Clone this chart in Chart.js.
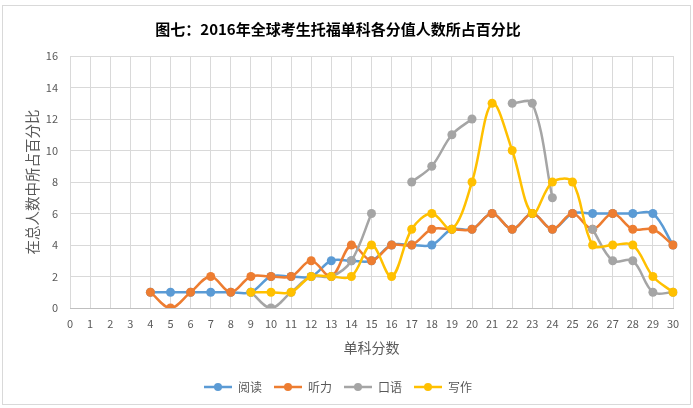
<!DOCTYPE html>
<html>
<head>
<meta charset="utf-8">
<script src="https://cdn.jsdelivr.net/npm/chart.js@4"></script>
<style>
  html, body { margin: 0; padding: 0; background: #fff; }
  #wrap { position: relative; width: 693px; height: 408px; }
  #frame { position: absolute; left: 2px; top: 5px; width: 689px; height: 400px; border: 1px solid #d9d9d9; box-sizing: border-box; }
  canvas { position: absolute; left: 0; top: 0; }
</style>
</head>
<body>
<div id="wrap">
  <div id="frame"></div>
  <canvas id="myChart" width="693" height="408"></canvas>
</div>
<script>
// x 轴：单科分数 0-30
const scoreLabels = ['0','1','2','3','4','5','6','7','8','9','10','11','12','13','14','15',
  '16','17','18','19','20','21','22','23','24','25','26','27','28','29','30'];

const readingPct = [null, null, null, null, 1, 1, 1, 1, 1, 1, 2, 2, 2, 3, 3, 3,
  4, 4, 4, 5, 5, 6, 5, 6, 5, 6, 6, 6, 6, 6, 4];
const listeningPct = [null, null, null, null, 1, 0, 1, 2, 1, 2, 2, 2, 3, 2, 4, 3,
  4, 4, 5, 5, 5, 6, 5, 6, 5, 6, 5, 6, 5, 5, 4];
const speakingPct = [null, null, null, null, null, null, null, null, null, 1, 0, 1, 2, 2, 3, 6,
  null, 8, 9, 11, 12, null, 13, 13, 7, null, 5, 3, 3, 1, 1];
const writingPct = [null, null, null, null, null, null, null, null, null, 1, 1, 1, 2, 2, 2, 4,
  2, 5, 6, 5, 8, 13, 10, 6, 8, 8, 4, 4, 4, 2, 1];

const seriesNames = ['阅读', '听力', '口语', '写作'];
const seriesColors = ['#5B9BD5', '#ED7D31', '#A5A5A5', '#FFC000'];

const FONT = "'Noto Sans CJK SC', 'Noto Sans', sans-serif";
const GREY_TEXT = '#595959';

// legend marker: short line with a dot, like Excel
function legendMarker(color) {
    var c = document.createElement('canvas');
    c.width = 28;
    c.height = 10;
    var g = c.getContext('2d');
    g.strokeStyle = color;
    g.lineWidth = 2.5;
    g.beginPath();
    g.moveTo(0, 5);
    g.lineTo(28, 5);
    g.stroke();
    g.fillStyle = color;
    g.beginPath();
    g.arc(14, 5, 4, 0, Math.PI * 2);
    g.fill();
    return c;
}
const markers = seriesColors.map(legendMarker);

function makeSet(i, values) {
    return {
        label: seriesNames[i],
        data: values,
        borderColor: seriesColors[i],
        backgroundColor: seriesColors[i],
        borderWidth: 2.5,
        pointRadius: 4.5,
        pointHoverRadius: 4.5,
        pointBorderWidth: 0,
        tension: 0.35,
        spanGaps: false,
        order: 4 - i
    };
}

const data = {
    labels: scoreLabels,
    datasets: [
        makeSet(0, readingPct),
        makeSet(1, listeningPct),
        makeSet(2, speakingPct),
        makeSet(3, writingPct)
    ]
};

const config = {
    type: 'line',
    data: data,
    options: {
        responsive: false,
        animation: false,
        layout: {
            padding: { left: 3, right: 20, top: 0, bottom: 5 }
        },
        plugins: {
            title: {
                display: true,
                text: '图七：2016年全球考生托福单科各分值人数所占百分比',
                color: '#000',
                font: { family: FONT, size: 15, weight: 'bold' },
                padding: { top: 20, bottom: 18 }
            },
            legend: {
                position: 'bottom',
                labels: {
                    usePointStyle: true,
                    pointStyleWidth: 28,
                    color: GREY_TEXT,
                    padding: 12,
                    font: { family: FONT, size: 12 },
                    generateLabels: function(chart) {
                        var items = Chart.defaults.plugins.legend.labels.generateLabels(chart);
                        items.forEach(function(it) {
                            it.pointStyle = markers[it.datasetIndex];
                        });
                        return items.sort(function(a, b) { return a.datasetIndex - b.datasetIndex; });
                    }
                }
            },
            tooltip: { enabled: false }
        },
        scales: {
            x: {
                offset: false,
                grid: { color: '#d9d9d9', drawTicks: false },
                border: { color: '#bfbfbf', width: 1 },
                ticks: {
                    color: GREY_TEXT,
                    font: { family: FONT, size: 11 },
                    padding: 9,
                    maxRotation: 0,
                    autoSkip: false
                },
                title: {
                    display: true,
                    text: '单科分数',
                    color: GREY_TEXT,
                    font: { family: FONT, size: 14 },
                    padding: { top: 4, bottom: 13 }
                },
                afterFit: function(scale) { scale.height = 61; }
            },
            y: {
                min: 0,
                max: 16,
                grid: { color: '#d9d9d9', drawTicks: false },
                border: { display: false },
                ticks: {
                    stepSize: 2,
                    color: GREY_TEXT,
                    font: { family: FONT, size: 11 },
                    padding: 12
                },
                title: {
                    display: true,
                    text: '在总人数中所占百分比',
                    color: GREY_TEXT,
                    font: { family: FONT, size: 14.5 },
                    padding: { top: 21, bottom: 4 }
                },
                afterFit: function(scale) { scale.width = 67; }
            }
        }
    }
};

var myChart;

function initChart() {
    var ctx = document.getElementById('myChart').getContext('2d');
    myChart = new Chart(ctx, config);
}

window.addEventListener('load', _ => {
    if (!myChart) {
        initChart();
    }
});
</script>
</body>
</html>
